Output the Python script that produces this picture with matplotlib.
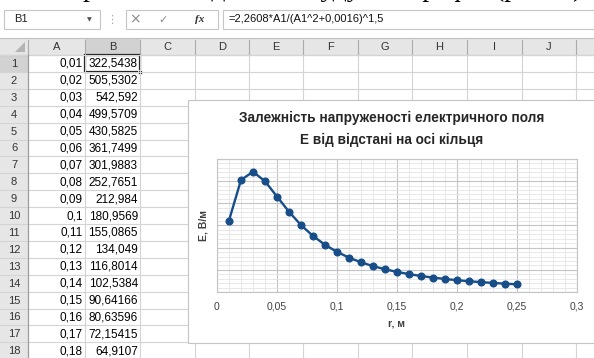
import matplotlib
matplotlib.use('Agg')
import matplotlib.pyplot as plt
from matplotlib.patches import Rectangle, Polygon
from matplotlib.ticker import MultipleLocator, FuncFormatter

# data from the sheet (column A = r, column B = E)
r_vals = [0.01, 0.02, 0.03, 0.04, 0.05, 0.06, 0.07, 0.08, 0.09, 0.1,
          0.11, 0.12, 0.13, 0.14, 0.15, 0.16, 0.17, 0.18, 0.19, 0.2,
          0.21, 0.22, 0.23, 0.24, 0.25]
e_vals = [322.5438, 505.5302, 542.592, 499.5709, 430.5825, 361.7499,
          301.9883, 252.7651, 212.984, 180.9569, 155.0865, 134.049,
          116.8014, 102.5384, 90.64166, 80.63596, 72.15415, 64.9107,
          58.68, 53.29, 48.60, 44.49, 40.87, 37.67, 34.83]
col_letters = ['A', 'B', 'C', 'D', 'E', 'F', 'G', 'H', 'I', 'J']
n_rows = 18
formula = '=2,2608*A1/(A1^2+0,0016)^1,5'
chart_title = 'Залежність напруженості електричного поля\nE від відстані на осі кільця'
top_line = 'За отриманими даними будуємо графік (рис. 4)'

W, H = 594, 358
fig = plt.figure(figsize=(W / 100, H / 100), dpi=100)
bg = fig.add_axes([0, 0, 1, 1])
bg.set_xlim(0, W)
bg.set_ylim(H, 0)
bg.axis('off')

cell_font = 'Liberation Sans'
grid_c = '#d4d4d4'

# cut-off line of document text at the very top (only descenders show)
bg.text(582, -4, top_line, ha='right', va='baseline', fontsize=20,
        family='Liberation Serif', color='black')

# formula bar
bg.add_patch(Rectangle((4, 10), 96, 19, fc='white', ec='#c6c6c6', lw=0.8))
bg.text(14, 19.5, 'B1', ha='left', va='center', fontsize=8, family=cell_font, color='#222')
bg.text(89, 19.5, '▼', ha='center', va='center', fontsize=4.5, color='#555')
bg.text(112, 19.5, '⋮', ha='center', va='center', fontsize=8, color='#aaa')
bg.add_patch(Rectangle((126, 10), 92, 19, fc='white', ec='#c6c6c6', lw=0.8))
bg.text(135, 19.5, '×', ha='center', va='center', fontsize=10, color='#8a8a8a')
bg.text(163, 19.5, '✓', ha='center', va='center', fontsize=8, color='#8a8a8a')
bg.text(200, 19.5, 'fx', ha='center', va='center', fontsize=8, family='Liberation Serif',
        style='italic', weight='bold', color='#333')
bg.add_patch(Rectangle((223, 10), 380, 19, fc='white', ec='#c6c6c6', lw=0.8))
bg.text(228, 19.5, formula, ha='left', va='center', fontsize=8, family=cell_font, color='#111')

# sheet geometry
col_x = [0, 28, 85, 140, 195, 249, 303, 358, 412, 467, 522, 576, 631]
head_top, head_bot = 38, 55
row_h = 16.9

# column header band
bg.add_patch(Rectangle((0, head_top), W, head_bot - head_top, fc='#e6e6e6', ec='none'))
bg.add_patch(Rectangle((col_x[2], head_top), col_x[3] - col_x[2], head_bot - head_top,
                       fc='#d2d2d2', ec='none'))
bg.plot([0, W], [head_top, head_top], color='#c0c0c0', lw=0.8)
bg.plot([0, W], [head_bot, head_bot], color='#ababab', lw=0.8)
bg.add_patch(Polygon([(15, 52), (25, 52), (25, 42)], closed=True, fc='#b4b4b4', ec='none'))
for x in col_x[1:]:
    bg.plot([x, x], [head_top + 2, head_bot], color='#ababab', lw=0.8)
for i, letter in enumerate(col_letters):
    xc = (col_x[i + 1] + col_x[i + 2]) / 2
    bg.text(xc, (head_top + head_bot) / 2 + 0.5, letter, ha='center', va='center',
            fontsize=8, family=cell_font, color='#333')

# row headers
bg.add_patch(Rectangle((0, head_bot), col_x[1], H - head_bot, fc='#e6e6e6', ec='none'))
bg.add_patch(Rectangle((0, head_bot), col_x[1], row_h, fc='#d2d2d2', ec='none'))

# cell grid
for i in range(n_rows + 1):
    y = head_bot + i * row_h
    bg.plot([0, W], [y, y], color=grid_c, lw=0.8)
for x in col_x[2:]:
    bg.plot([x, x], [head_bot, H], color=grid_c, lw=0.8)
bg.plot([col_x[1], col_x[1]], [head_bot, H], color='#9b9b9b', lw=0.9)

def excel_fmt(v):
    return repr(v).replace('.', ',')

for i in range(n_rows):
    yc = head_bot + (i + 0.5) * row_h + 0.5
    bg.text(14, yc, str(i + 1), ha='center', va='center', fontsize=8,
            family=cell_font, color='#333')
    bg.text(col_x[2] - 2, yc, excel_fmt(r_vals[i]), ha='right', va='center',
            fontsize=8.5, family=cell_font, color='black')
    bg.text(col_x[3] - 2, yc, excel_fmt(e_vals[i]), ha='right', va='center',
            fontsize=8.5, family=cell_font, color='black')

# active cell B1
bg.add_patch(Rectangle((col_x[2], head_bot), col_x[3] - col_x[2], row_h,
                       fc='none', ec='#1e1e1e', lw=1.6))
bg.add_patch(Rectangle((col_x[3] - 2, head_bot + row_h - 2), 4, 4, fc='#1e1e1e', ec='white', lw=0.6))

# chart frame
bg.add_patch(Rectangle((188, 100), 430, 243, fc='white', ec='#c4c4c4', lw=0.8, zorder=5))
bg.text(392, 129, chart_title, ha='center', va='center', fontsize=9.8, weight='bold',
        family='Liberation Sans', color='#262626', linespacing=1.75, zorder=6)

# the chart itself
blue = '#174e89'
ax = fig.add_axes([217 / W, 1 - 292 / H, 360 / W, 133 / H])
ax.plot(r_vals, e_vals, color=blue, lw=1.7, marker='o', ms=4.8, zorder=3)
ax.set_xlim(0, 0.3)
ax.set_ylim(0, 600)
ax.xaxis.set_major_locator(MultipleLocator(0.05))
ax.xaxis.set_minor_locator(MultipleLocator(0.01))
ax.yaxis.set_major_locator(MultipleLocator(100))
ax.yaxis.set_minor_locator(MultipleLocator(20))
ax.grid(which='major', color='#c4c4c4', lw=0.8)
ax.grid(which='minor', color='#e4e4e4', lw=0.6)
ax.set_axisbelow(True)
ax.tick_params(which='both', length=0)
ax.tick_params(axis='y', labelleft=False)
ax.tick_params(axis='x', pad=7, labelsize=7.5, labelcolor='#404040')
ax.xaxis.set_major_formatter(FuncFormatter(lambda v, p: ('%g' % v).replace('.', ',')))
for lbl in ax.get_xticklabels():
    lbl.set_family('Liberation Sans')
for s in ax.spines.values():
    s.set_color('#c4c4c4')
    s.set_linewidth(0.8)
ax.set_xlabel('r, м', fontsize=7.5, weight='bold', color='#404040', family='Liberation Sans')
ax.xaxis.set_label_coords(0.5, -0.2)
ax.set_ylabel('E, В/м', fontsize=7.5, weight='bold', color='#404040', family='Liberation Sans')
ax.yaxis.set_label_coords(-0.025, 0.5)

fig.savefig('out.png', dpi=100)
